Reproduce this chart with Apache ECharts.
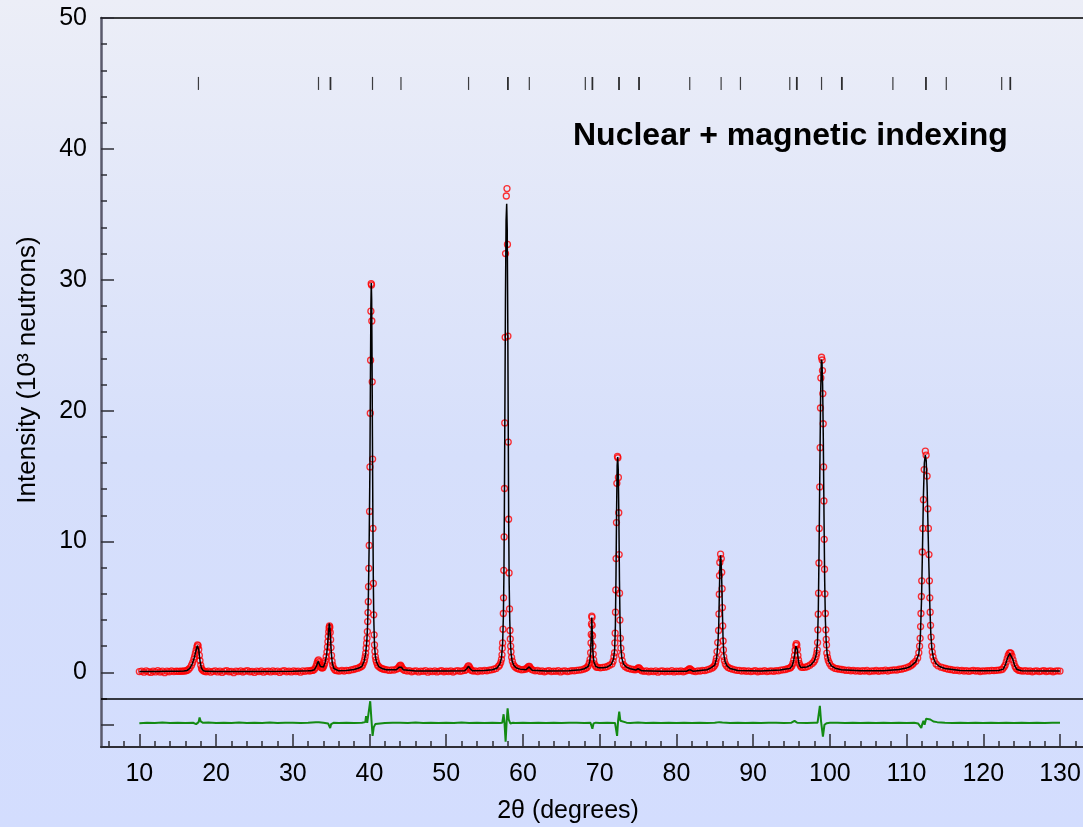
<!DOCTYPE html>
<html>
<head>
<meta charset="utf-8">
<script src="https://cdn.jsdelivr.net/npm/echarts@6.0.0/dist/echarts.min.js"></script>
<style>html,body{margin:0;padding:0;}#chart{width:1083px;height:827px;}</style>
</head>
<body>
<div id="chart"></div>
<script>
// ---- data ----
// observed intensities [2theta (deg), intensity (10^3 neutrons)]
const observed = [
[10.0,0.06],[10.3,0.1],[10.6,0.02],[10.9,0.12],[11.2,0.05],[11.5,0.0],[11.8,0.1],[12.1,0.04],[12.4,0.14],[12.7,0.03],[13.0,0.09],[13.3,-0.02],[13.6,0.1],[13.9,0.05],[14.2,0.12],[14.5,0.06],[14.8,0.1],[15.0,0.08],
[15.2,0.08],[15.4,0.1],[15.6,0.08],[15.8,0.12],[16.0,0.1],[16.2,0.15],[16.4,0.22],[16.6,0.35],[16.8,0.55],[16.95,0.75],[17.1,1.0],[17.2,1.2],[17.3,1.45],[17.4,1.7],[17.5,1.95],[17.58,2.1],[17.66,2.05],[17.74,1.75],[17.82,1.3],[17.9,0.9],[18.0,0.55],[18.1,0.3],[18.2,0.2],[18.35,0.12],[18.5,0.08],
[18.7,0.05],[19.0,0.1],[19.3,0.02],[19.6,0.08],[19.9,0.12],[20.2,0.04],[20.5,0.1],[20.8,0.0],[21.1,0.09],[21.4,0.13],[21.7,0.05],[22.0,0.08],[22.3,-0.02],[22.6,0.1],[22.9,0.06],[23.2,0.12],[23.5,0.03],[23.8,0.09],[24.1,0.14],[24.4,0.05],[24.7,0.08],[25.0,0.0],[25.3,0.1],[25.6,0.06],[25.9,0.12],[26.2,0.02],[26.5,0.08],[26.8,0.1],[27.1,0.04],[27.4,0.12],[27.7,0.06],[28.0,0.1],[28.3,0.0],[28.6,0.09],[28.9,0.13],[29.2,0.05],[29.5,0.1],[29.8,0.04],[30.1,0.12],[30.4,0.07],[30.7,0.1],[31.0,0.02],[31.3,0.11],[31.6,0.08],[31.9,0.14],[32.2,0.1],[32.4,0.15],
[32.6,0.15],[32.8,0.22],[32.95,0.35],[33.05,0.5],[33.15,0.7],[33.25,0.88],[33.35,0.95],[33.45,0.8],[33.55,0.55],[33.65,0.42],[33.75,0.36],[33.85,0.33],[33.95,0.38],[34.05,0.5],[34.15,0.68],[34.25,0.9],[34.35,1.2],[34.45,1.55],[34.52,1.95],[34.58,2.35],[34.63,2.75],[34.68,3.1],[34.73,3.4],[34.78,3.55],[34.83,3.45],[34.88,3.05],[34.93,2.5],[34.98,1.9],[35.05,1.3],[35.12,0.85],[35.2,0.55],[35.3,0.35],[35.45,0.22],[35.6,0.15],
[35.8,0.12],[36.1,0.1],[36.4,0.15],[36.7,0.1],[37.0,0.16],[37.3,0.14],[37.6,0.2],[37.9,0.22],[38.2,0.28],[38.5,0.32],[38.75,0.4],
[38.95,0.45],[39.1,0.55],[39.25,0.75],[39.35,0.95],[39.44,1.2],[39.5,1.47],[39.56,1.85],[39.62,2.23],[39.68,2.6],[39.72,3.12],[39.76,3.88],[39.8,4.57],[39.84,5.4],[39.87,6.55],[39.91,7.95],[39.96,9.7],[40.01,12.3],[40.06,15.7],[40.1,19.8],[40.14,23.85],[40.18,27.6],[40.22,29.7],[40.26,29.6],[40.3,26.85],[40.35,22.2],[40.4,16.3],[40.45,11.0],[40.5,6.8],[40.55,4.4],[40.6,2.87],[40.65,2.1],[40.7,1.6],[40.76,1.2],[40.83,0.95],[40.92,0.75],[41.05,0.55],[41.2,0.45],[41.4,0.35],[41.6,0.3],[41.8,0.25],
[42.0,0.22],[42.3,0.2],[42.6,0.15],[42.9,0.2],[43.2,0.18],[43.5,0.25],
[43.7,0.3],[43.85,0.42],[43.95,0.52],[44.05,0.55],[44.15,0.45],[44.25,0.32],[44.4,0.22],
[44.6,0.15],[44.9,0.1],[45.2,0.14],[45.5,0.05],[45.8,0.1],[46.1,0.12],[46.4,0.04],[46.7,0.1],[47.0,0.08],[47.3,0.13],[47.6,0.02],[47.9,0.1],[48.2,0.06],[48.5,0.12],[48.8,0.04],[49.1,0.09],[49.4,0.13],[49.7,0.05],[50.0,0.1],[50.3,0.07],[50.6,0.12],[50.9,0.03],[51.2,0.1],[51.5,0.14],[51.8,0.08],[52.1,0.12],[52.4,0.15],
[52.6,0.22],[52.72,0.35],[52.84,0.48],[52.94,0.5],[53.05,0.38],[53.18,0.24],[53.3,0.15],
[53.5,0.1],[53.8,0.12],[54.1,0.06],[54.4,0.14],[54.7,0.1],[55.0,0.15],[55.3,0.12],[55.6,0.18],[55.9,0.2],[56.2,0.24],[56.5,0.3],[56.8,0.45],
[56.95,0.55],[57.1,0.75],[57.2,1.0],[57.27,1.34],[57.31,1.85],[57.35,2.25],[57.4,3.3],[57.44,4.5],[57.47,5.7],[57.5,7.8],[57.55,10.35],[57.59,14.05],[57.63,19.06],[57.68,25.6],[57.73,32.0],[57.83,36.4],[57.92,36.97],[57.98,32.7],[58.04,25.7],[58.08,17.6],[58.13,11.7],[58.19,7.6],[58.25,4.85],[58.31,3.2],[58.35,2.55],[58.4,2.0],[58.44,1.58],[58.52,1.15],[58.62,0.85],[58.76,0.6],[58.92,0.45],[59.1,0.35],[59.3,0.3],
[59.5,0.25],[59.8,0.2],[60.1,0.22],[60.35,0.25],
[60.5,0.3],[60.62,0.38],[60.74,0.46],[60.85,0.45],[60.96,0.35],[61.1,0.25],
[61.3,0.18],[61.6,0.12],[61.9,0.15],[62.2,0.08],[62.5,0.12],[62.8,0.05],[63.1,0.1],[63.4,0.14],[63.7,0.06],[64.0,0.1],[64.3,0.08],[64.6,0.13],[64.9,0.04],[65.2,0.1],[65.5,0.12],[65.8,0.06],[66.1,0.1],[66.4,0.14],[66.7,0.12],[67.0,0.16],[67.3,0.18],[67.6,0.2],[67.9,0.25],[68.15,0.3],
[68.35,0.38],[68.5,0.5],[68.65,0.72],[68.75,1.0],[68.82,1.5],[68.87,2.25],[68.9,2.9],[68.93,3.7],[68.97,4.3],[69.0,4.2],[69.03,3.6],[69.07,2.8],[69.11,2.0],[69.16,1.4],[69.22,0.95],[69.32,0.65],[69.45,0.48],[69.6,0.4],
[69.8,0.38],[70.1,0.35],[70.4,0.38],[70.7,0.4],[71.0,0.45],[71.3,0.55],
[71.6,0.65],[71.75,0.85],[71.86,1.2],[71.94,1.5],[71.98,2.25],[72.02,3.0],[72.06,4.6],[72.1,6.3],[72.14,8.7],[72.19,11.45],[72.24,14.45],[72.32,16.5],[72.38,16.4],[72.44,14.9],[72.49,12.2],[72.54,9.0],[72.59,6.05],[72.64,4.0],[72.7,2.6],[72.76,1.85],[72.84,1.3],[72.94,0.9],[73.1,0.6],[73.3,0.45],[73.55,0.35],
[73.8,0.3],[74.1,0.25],[74.4,0.22],[74.65,0.2],
[74.85,0.25],[74.98,0.3],[75.08,0.36],[75.2,0.3],[75.35,0.2],
[75.5,0.12],[75.8,0.08],[76.1,0.12],[76.4,0.05],[76.7,0.1],[77.0,0.06],[77.3,0.12],[77.6,0.02],[77.9,0.09],[78.2,0.12],[78.5,0.05],[78.8,0.1],[79.1,0.06],[79.4,0.13],[79.7,0.04],[80.0,0.1],[80.3,0.07],[80.6,0.12],[80.9,0.05],[81.2,0.1],
[81.45,0.15],[81.6,0.22],[81.73,0.28],[81.86,0.22],[82.0,0.14],
[82.2,0.1],[82.5,0.06],[82.8,0.12],[83.1,0.1],[83.4,0.15],[83.7,0.14],[84.0,0.2],[84.3,0.25],[84.6,0.32],[84.8,0.4],
[84.95,0.5],[85.08,0.65],[85.15,0.85],[85.22,1.08],[85.3,1.59],[85.39,2.28],[85.5,3.2],[85.55,4.47],[85.59,5.97],[85.62,7.4],[85.66,8.4],[85.76,9.03],[85.85,8.7],[85.91,7.65],[85.96,6.4],[86.0,4.95],[86.04,3.55],[86.09,2.4],[86.13,1.72],[86.17,1.2],[86.25,0.9],[86.38,0.65],[86.55,0.48],[86.75,0.38],
[87.0,0.3],[87.3,0.25],[87.6,0.2],[87.9,0.16],[88.2,0.15],[88.5,0.1],[88.8,0.14],[89.1,0.08],[89.4,0.12],[89.7,0.06],[90.0,0.1],[90.3,0.13],[90.6,0.05],[90.9,0.1],[91.2,0.08],[91.5,0.14],[91.8,0.06],[92.1,0.1],[92.4,0.12],[92.7,0.08],[93.0,0.14],[93.3,0.12],[93.6,0.18],[93.9,0.2],[94.2,0.22],[94.5,0.28],[94.75,0.32],
[94.9,0.38],[95.05,0.48],[95.18,0.68],[95.3,0.95],[95.4,1.3],[95.48,1.7],[95.56,2.05],[95.63,2.2],[95.7,2.1],[95.77,1.75],[95.84,1.3],[95.92,0.95],[96.02,0.68],[96.15,0.5],[96.3,0.4],
[96.5,0.38],[96.8,0.4],[97.1,0.45],[97.4,0.55],[97.7,0.68],[97.9,0.8],
[98.05,0.95],[98.2,1.2],[98.3,1.45],[98.36,1.72],[98.4,2.28],[98.44,3.25],[98.49,4.45],[98.53,6.05],[98.58,8.36],[98.62,11.0],[98.68,14.17],[98.74,17.17],[98.78,20.2],[98.83,22.5],[98.92,24.08],[99.0,23.87],[99.04,23.06],[99.09,21.3],[99.14,19.0],[99.19,15.7],[99.23,13.1],[99.27,10.17],[99.31,7.88],[99.36,6.0],[99.42,4.5],[99.48,3.25],[99.53,2.53],[99.57,2.1],[99.61,1.47],[99.7,1.15],[99.8,0.9],[99.95,0.7],[100.15,0.5],[100.4,0.4],[100.7,0.3],
[100.95,0.28],[101.25,0.25],[101.55,0.22],[101.85,0.2],[102.15,0.15],[102.45,0.18],[102.75,0.12],[103.05,0.16],[103.35,0.1],[103.65,0.14],[103.95,0.08],[104.25,0.13],[104.55,0.1],[104.85,0.15],[105.15,0.06],[105.45,0.12],[105.75,0.1],[106.05,0.15],[106.35,0.08],[106.65,0.13],[106.95,0.12],[107.25,0.17],[107.55,0.1],[107.85,0.16],[108.15,0.18],[108.45,0.2],[108.75,0.18],[109.05,0.24],[109.35,0.25],[109.65,0.3],[109.95,0.35],[110.25,0.42],[110.55,0.5],[110.75,0.6],
[110.9,0.7],[111.2,0.85],[111.45,1.1],[111.6,1.5],[111.7,2.0],[111.77,2.6],[111.83,3.5],[111.88,4.5],[111.93,5.8],[111.98,7.0],[112.05,9.2],[112.12,11.0],[112.2,13.2],[112.3,15.5],[112.45,16.9],[112.55,16.6],[112.68,15.0],[112.78,12.5],[112.85,11.0],[112.92,9.0],[112.98,7.0],[113.03,5.7],[113.08,4.6],[113.13,3.6],[113.2,2.7],[113.27,2.0],[113.35,1.55],[113.45,1.2],[113.6,0.9],[113.85,0.65],[114.1,0.5],[114.5,0.4],
[114.8,0.35],[115.1,0.3],[115.4,0.25],[115.7,0.22],[116.0,0.2],[116.3,0.15],[116.6,0.18],[116.9,0.12],[117.2,0.16],[117.5,0.1],[117.8,0.14],[118.1,0.08],[118.4,0.12],[118.7,0.15],[119.0,0.1],[119.3,0.13],[119.6,0.07],[119.9,0.12],[120.2,0.1],[120.5,0.14],[120.8,0.12],[121.1,0.15],[121.4,0.14],[121.7,0.16],[122.0,0.18],
[122.3,0.2],[122.5,0.25],[122.7,0.4],[122.85,0.55],[123.0,0.8],[123.12,1.05],[123.25,1.3],[123.38,1.45],[123.5,1.5],[123.62,1.45],[123.75,1.25],[123.88,0.95],[124.0,0.7],[124.15,0.45],[124.3,0.3],[124.5,0.2],[124.7,0.15],
[124.9,0.12],[125.2,0.1],[125.5,0.13],[125.8,0.08],[126.1,0.12],[126.4,0.05],[126.7,0.1],[127.0,0.12],[127.3,0.06],[127.6,0.1],[127.9,0.14],[128.2,0.07],[128.5,0.1],[128.8,0.12],[129.1,0.05],[129.4,0.1],[129.7,0.12],[130.0,0.1]
];

// calculated profile [2theta, intensity]
const calculated = [
[10,0.06],[12,0.07],[14,0.08],[15,0.08],[15.8,0.1],[16.2,0.14],[16.6,0.33],[16.9,0.65],[17.2,1.2],[17.4,1.7],[17.55,2.05],[17.65,2.0],[17.75,1.7],[17.85,1.15],[17.95,0.7],[18.1,0.32],[18.3,0.15],[18.6,0.08],
[20,0.07],[25,0.07],[30,0.09],[32,0.12],[32.4,0.13],[32.8,0.2],[33.1,0.5],[33.3,0.85],[33.42,0.8],[33.6,0.45],[33.8,0.35],[34.0,0.42],[34.2,0.72],[34.4,1.3],[34.55,2.2],[34.65,3.0],[34.75,3.75],[34.82,3.55],[34.92,2.6],[35.02,1.5],[35.15,0.7],[35.35,0.3],[35.6,0.15],[36,0.12],[37,0.15],[38,0.22],[38.6,0.33],
[39.0,0.45],[39.3,0.85],[39.5,1.45],[39.65,2.4],[39.75,3.6],[39.85,5.8],[39.95,9.6],[40.05,15.5],[40.12,22.5],[40.18,28],[40.23,29.75],[40.28,28.5],[40.33,24],[40.38,18],[40.44,11.5],[40.5,6.8],[40.56,4.0],[40.64,2.2],[40.75,1.3],[40.9,0.8],[41.2,0.45],[41.6,0.3],[42.2,0.2],[43.5,0.2],
[43.85,0.4],[44.0,0.52],[44.15,0.4],[44.4,0.2],[46,0.1],[50,0.1],[52.4,0.12],[52.7,0.3],[52.9,0.48],[53.1,0.3],[53.4,0.13],[55,0.14],[56,0.2],[56.6,0.32],
[57.0,0.65],[57.2,1.1],[57.35,2.2],[57.45,4.3],[57.52,7.5],[57.58,12.5],[57.64,19.5],[57.72,28.5],[57.8,34.5],[57.88,35.8],[57.95,33.8],[58.02,27],[58.08,19],[58.14,11.5],[58.2,7.0],[58.28,4.0],[58.36,2.3],[58.46,1.4],[58.6,0.85],[58.8,0.55],[59.1,0.35],[59.6,0.25],
[60.4,0.2],[60.65,0.3],[60.8,0.42],[60.95,0.3],[61.2,0.16],[63,0.1],[66,0.12],[67.5,0.2],[68.0,0.28],
[68.5,0.45],[68.7,0.8],[68.82,1.5],[68.9,2.8],[68.97,4.2],[69.04,3.0],[69.12,1.5],[69.25,0.8],[69.5,0.45],[69.9,0.35],[70.5,0.35],
[71.0,0.42],[71.5,0.6],[71.8,1.0],[71.95,1.7],[72.05,3.6],[72.13,7.5],[72.2,12.0],[72.28,15.8],[72.35,16.45],[72.42,15.5],[72.5,12.0],[72.58,7.0],[72.66,3.6],[72.76,1.9],[72.9,1.05],[73.1,0.65],[73.5,0.4],[74.0,0.28],
[74.7,0.18],[75.0,0.28],[75.1,0.32],[75.25,0.22],[75.5,0.12],[78,0.08],[81.3,0.08],[81.6,0.18],[81.75,0.25],[81.9,0.18],[82.2,0.08],[84,0.2],
[84.5,0.35],[85.0,0.55],[85.25,1.1],[85.42,2.3],[85.52,3.6],[85.6,6.0],[85.68,8.2],[85.76,8.95],[85.84,8.3],[85.92,6.8],[86.0,4.6],[86.08,2.6],[86.18,1.4],[86.35,0.8],[86.6,0.5],[87.0,0.3],[88,0.15],[91,0.1],[93.5,0.18],[94.5,0.27],
[94.8,0.3],[95.1,0.5],[95.3,0.95],[95.45,1.5],[95.58,2.0],[95.65,2.05],[95.75,1.75],[95.88,1.0],[96.0,0.6],[96.2,0.38],[97,0.42],[97.5,0.55],
[98.0,0.9],[98.25,1.4],[98.4,2.4],[98.5,4.8],[98.6,9.5],[98.7,15.5],[98.8,21.2],[98.9,23.9],[98.98,23.7],[99.06,22.0],[99.15,17.8],[99.24,12.0],[99.33,7.0],[99.42,4.0],[99.52,2.4],[99.65,1.4],[99.85,0.85],[100.2,0.5],[100.7,0.32],[101.5,0.2],[104,0.12],[107,0.13],[109,0.22],[110,0.33],
[110.5,0.45],[111.2,0.8],[111.6,1.4],[111.8,2.7],[111.95,5.5],[112.08,9.5],[112.2,13.5],[112.32,16.0],[112.44,16.6],[112.56,16.2],[112.68,14.2],[112.8,11.0],[112.92,8.0],[113.04,5.0],[113.16,3.0],[113.3,1.8],[113.5,1.1],[113.8,0.7],[114.3,0.45],[115,0.3],[117,0.14],[120,0.12],[122.0,0.15],
[122.6,0.25],[122.9,0.6],[123.2,1.15],[123.45,1.45],[123.6,1.42],[123.85,1.0],[124.1,0.5],[124.4,0.22],[125,0.12],[130,0.1]
];

// difference curve (observed - calculated, drawn offset below the pattern)
const difference = [
[10,-3.88],[11,-3.84],[12,-3.87],[13,-3.83],[14,-3.86],[15,-3.84],[16,-3.87],[17,-3.85],[17.4,-3.95],[17.6,-4.1],[17.72,-3.8],[17.85,-3.45],[18.0,-3.75],[18.3,-3.85],[19,-3.83],[20,-3.87],[21,-3.84],[22,-3.86],[23,-3.83],[24,-3.87],[25,-3.84],[26,-3.86],[27,-3.83],[28,-3.87],[29,-3.85],[30,-3.84],[31,-3.87],[32,-3.84],[33,-3.8],[33.2,-3.65],[33.4,-3.8],[34,-3.84],[34.6,-3.9],[34.87,-4.25],[35.0,-3.95],[35.3,-3.85],[36,-3.86],[37,-3.84],[38,-3.87],[39,-3.85],[39.45,-3.8],[39.55,-3.35],[39.7,-3.85],[39.95,-3.7],[40.09,-2.2],[40.25,-3.6],[40.4,-4.85],[40.55,-4.2],[40.75,-3.95],[41,-3.85],
[42,-3.86],[43,-3.84],[44,-3.85],[45,-3.86],[46,-3.83],[47,-3.87],[48,-3.84],[49,-3.86],[50,-3.84],[51,-3.87],[52,-3.83],[53,-3.86],[54,-3.84],[55,-3.87],[56,-3.84],[57,-3.86],[57.3,-3.85],[57.48,-3.2],[57.6,-3.9],[57.74,-5.3],[57.87,-3.8],[58.0,-2.75],[58.15,-3.6],[58.35,-3.9],[58.7,-3.85],[59,-3.86],[60,-3.84],[61,-3.87],[62,-3.84],[63,-3.86],[64,-3.84],[65,-3.87],[66,-3.85],[67,-3.84],[68,-3.86],[68.8,-3.85],[69.05,-4.3],[69.2,-3.9],[69.5,-3.84],[70,-3.86],[71,-3.84],[72,-3.86],[72.15,-4.0],[72.27,-4.85],[72.4,-3.7],[72.55,-3.0],[72.7,-3.7],[72.9,-3.85],[73.5,-3.84],[74,-3.87],
[75,-3.83],[76,-3.86],[77,-3.84],[78,-3.87],[79,-3.84],[80,-3.86],[81,-3.84],[82,-3.87],[83,-3.84],[84,-3.86],[85,-3.85],[85.6,-3.8],[85.8,-3.9],[86,-3.82],[87,-3.86],[88,-3.84],[89,-3.87],[90,-3.84],[91,-3.86],[92,-3.85],[93,-3.84],[94,-3.87],[95,-3.84],[95.4,-3.7],[95.55,-3.58],[95.75,-3.85],[96,-3.84],[97,-3.86],[98,-3.84],[98.4,-3.84],[98.55,-3.75],[98.7,-2.55],[98.85,-3.7],[99.1,-4.9],[99.3,-4.0],[99.6,-3.88],[100,-3.85],
[101,-3.84],[102,-3.87],[103,-3.84],[104,-3.86],[105,-3.84],[106,-3.87],[107,-3.84],[108,-3.86],[109,-3.84],[110,-3.86],[111,-3.85],[111.5,-3.9],[111.75,-4.05],[111.92,-4.25],[112.05,-3.95],[112.2,-3.7],[112.35,-4.0],[112.55,-3.55],[112.75,-3.45],[113.1,-3.6],[113.5,-3.75],[114,-3.8],[115,-3.84],[116,-3.86],[117,-3.84],[118,-3.87],[119,-3.84],[120,-3.86],[121,-3.84],[122,-3.87],[123,-3.84],[124,-3.86],[125,-3.84],[126,-3.87],[127,-3.84],[128,-3.86],[129,-3.85],[130,-3.85]
];

// Bragg reflection positions (2theta) and the level where their tick marks are drawn
const braggPositions = [17.70,33.35,34.87,34.95,40.39,44.10,52.91,58.00,58.08,60.83,68.13,69.01,69.09,72.48,72.56,75.09,75.17,81.74,85.83,88.35,94.78,95.66,95.74,98.92,101.53,101.61,108.22,112.49,112.57,115.18,122.40,123.48,123.56];
const braggLevel = 45;

// axis tick labels
const xTickLabels = [10,20,30,40,50,60,70,80,90,100,110,120,130];
const yTickLabels = [0,10,20,30,40,50];
const xMinorTicks = [6,8,12,14,16,18,22,24,26,28,32,34,36,38,42,44,46,48,52,54,56,58,62,64,66,68,72,74,76,78,82,84,86,88,92,94,96,98,102,104,106,108,112,114,116,118,122,124,126,128,132];
const yMajorTicks = [-4,0,10,20,30,40,50];
const yMinorTicks = [-2,2,4,6,8,12,14,16,18,22,24,26,28,32,34,36,38,42,44,46,48];

// ---- chart ----
const chart = echarts.init(document.getElementById('chart'), null, {renderer:'canvas'});
const FONT = 'Liberation Sans, Arial, Helvetica, sans-serif';
const axisColor = '#2e2e36';
const X_MIN = 5, X_MAX = 133, Y_MIN = -5.7, Y_MAX = 50;

const option = {
  animation: false,
  backgroundColor: {
    type: 'linear', x: 0, y: 0, x2: 0, y2: 1,
    colorStops: [
      {offset: 0, color: '#eceef7'},
      {offset: 0.55, color: '#d6dffb'},
      {offset: 1, color: '#d3ddfe'}
    ]
  },
  textStyle: {fontFamily: FONT},
  grid: {left: 101, right: 0, top: 18, bottom: 80, containLabel: false, outerBoundsMode: 'none'},
  xAxis: [
    {type: 'value', min: X_MIN, max: X_MAX, position: 'bottom', offset: 0,
     axisLine: {show: true, onZero: false, lineStyle: {color: axisColor, width: 2}},
     axisTick: {show: true, inside: true, length: 13, customValues: xTickLabels, lineStyle: {color: axisColor, width: 1.5}},
     axisLabel: {show: true, customValues: xTickLabels, fontSize: 25, color: '#000', margin: 15, fontFamily: FONT},
     splitLine: {show: false}},
    {type: 'value', min: X_MIN, max: X_MAX, position: 'bottom', offset: 0,
     axisLine: {show: false, onZero: false},
     axisTick: {show: true, inside: true, length: 6, customValues: xMinorTicks, lineStyle: {color: axisColor, width: 1.5}},
     axisLabel: {show: false}, splitLine: {show: false}},
    {type: 'value', min: X_MIN, max: X_MAX, position: 'top', offset: 0,
     axisLine: {show: true, onZero: false, lineStyle: {color: '#000', width: 1.5}},
     axisTick: {show: false}, axisLabel: {show: false}, splitLine: {show: false}}
  ],
  yAxis: [
    {type: 'value', min: Y_MIN, max: Y_MAX, position: 'left', offset: 0,
     axisLine: {show: true, onZero: false, lineStyle: {color: '#5a5a6c', width: 2.5}},
     axisTick: {show: true, inside: true, length: 13, customValues: yMajorTicks, lineStyle: {color: axisColor, width: 1.5}},
     axisLabel: {show: true, customValues: yTickLabels, fontSize: 25, color: '#000', margin: 14, fontFamily: FONT},
     splitLine: {show: false}},
    {type: 'value', min: Y_MIN, max: Y_MAX, position: 'left', offset: 0,
     axisLine: {show: false, onZero: false},
     axisTick: {show: true, inside: true, length: 6, customValues: yMinorTicks, lineStyle: {color: axisColor, width: 1.5}},
     axisLabel: {show: false}, splitLine: {show: false}}
  ],
  series: [
    {name: 'Observed', type: 'scatter', xAxisIndex: 0, yAxisIndex: 0, data: observed,
     symbol: 'circle', symbolSize: 6,
     itemStyle: {color: 'rgba(0,0,0,0)', borderColor: '#ff0000', borderWidth: 1.3},
     silent: true, z: 2},
    {name: 'Calculated', type: 'line', xAxisIndex: 0, yAxisIndex: 0, data: calculated,
     showSymbol: false, symbol: 'none', lineStyle: {color: '#000', width: 1.5}, silent: true, z: 3},
    {name: 'Difference', type: 'line', xAxisIndex: 0, yAxisIndex: 0, data: difference,
     showSymbol: false, symbol: 'none', lineStyle: {color: '#138a13', width: 2}, silent: true, z: 3,
     markLine: {silent: true, symbol: ['none', 'none'], label: {show: false},
       lineStyle: {color: '#000', width: 1.5, type: 'solid'}, data: [{yAxis: -2}]}},
    {name: 'Bragg', type: 'scatter', xAxisIndex: 0, yAxisIndex: 0,
     data: braggPositions.map(p => [p, braggLevel]),
     symbol: 'rect', symbolSize: [1.2, 13], itemStyle: {color: '#111'}, silent: true, z: 4}
  ],
  graphic: [
    {type: 'text', left: 573, top: 120,
     style: {text: 'Nuclear + magnetic indexing', font: 'bold 32px ' + FONT, fill: '#000'}},
    {type: 'text', x: 568, y: 811,
     style: {text: '2θ (degrees)', font: '25px ' + FONT, fill: '#000', textAlign: 'center', textVerticalAlign: 'middle'}},
    {type: 'text', x: 28, y: 370, rotation: Math.PI / 2,
     style: {text: 'Intensity (10³ neutrons)', font: '26px ' + FONT, fill: '#000', textAlign: 'center', textVerticalAlign: 'middle'}}
  ]
};
chart.setOption(option);
</script>
</body>
</html>
